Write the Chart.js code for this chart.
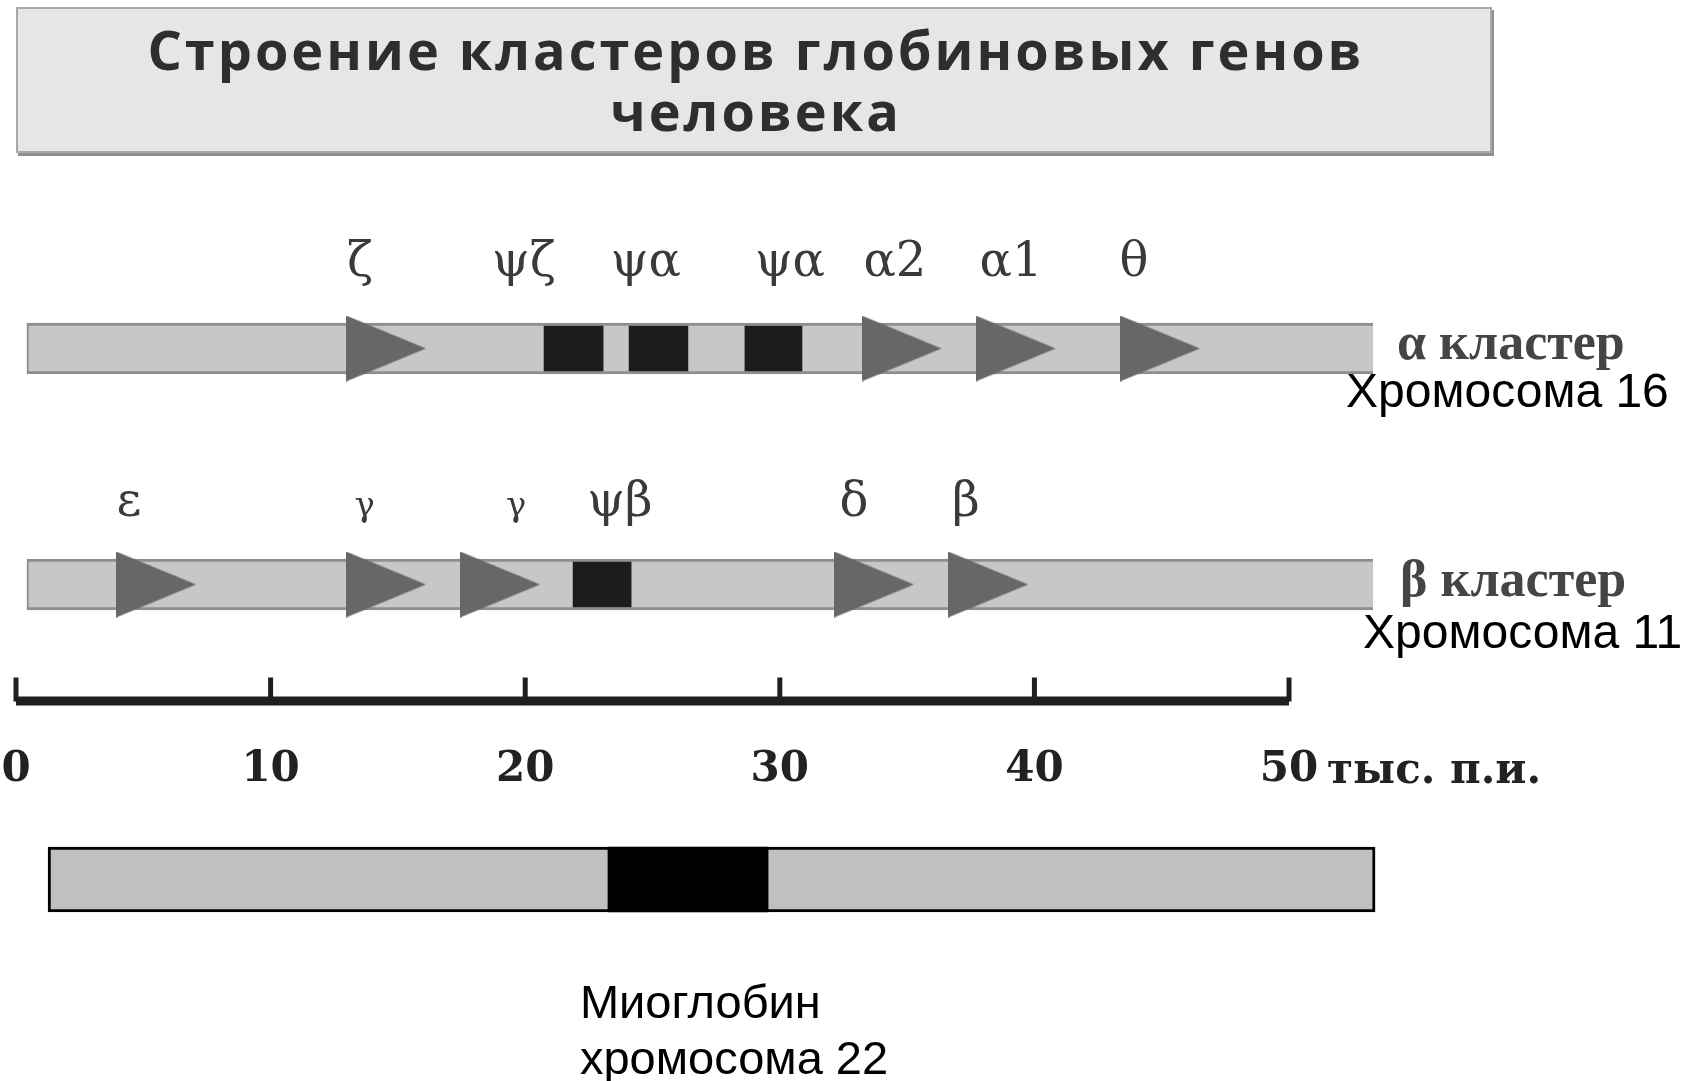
<!DOCTYPE html>
<html><head><meta charset="utf-8">
<script src="https://cdn.jsdelivr.net/npm/chart.js@4.4.1/dist/chart.umd.min.js"></script>
<style>html,body{margin:0;padding:0;background:#fff;overflow:hidden}canvas{display:block}</style>
</head><body>
<canvas id="c" width="1689" height="1081"></canvas>
<script>
// ---------------- DATA (positions along the chromosome, kb) ----------------
const titleLines = ['Строение кластеров глобиновых генов', 'человека'];
const rulerTicks = [0, 10, 20, 30, 40, 50];
const rulerUnit = 'тыс. п.и.';

const clusterSpan = [0.43, 53.3];

const alphaGeneNames = ['ζ', 'α2', 'α1', 'θ'];
const alphaGeneKb = [14.53, 34.78, 39.26, 44.93];
const alphaPseudoNames = ['ψζ', 'ψα', 'ψα'];
const alphaPseudoStart = [20.74, 24.08, 28.63];
const alphaPseudoEnd = [23.06, 26.39, 30.87];
const alphaLabels = ['ζ', 'ψζ', 'ψα', 'ψα', 'α2', 'α1', 'θ'];
const alphaLabelKb = [13.51, 19.95, 24.74, 30.4, 34.52, 39.08, 43.91];

const betaGeneNames = ['ε', 'γ', 'γ', 'δ', 'β'];
const betaGeneKb = [5.5, 14.53, 19.01, 33.7, 38.18];
const betaPseudoNames = ['ψβ'];
const betaPseudoStart = [21.88];
const betaPseudoEnd = [24.16];
const betaLabels = ['ε', 'γ', 'γ', 'ψβ', 'δ', 'β'];
const betaLabelKb = [4.44, 13.69, 19.64, 23.72, 32.91, 37.31];

const myoSpan = [1.26, 53.38];
const myoGene = [23.25, 29.54];

const rowNames = ['α кластер', 'β кластер'];
const rowChromosomes = ['Хромосома 16', 'Хромосома 11'];
const myoLines = ['Миоглобин', 'хромосома 22'];

// ---------------- LAYOUT / STYLE ----------------
const W = 1689, H = 1081;
const L = {
  xMin: -0.6284, xMax: 65.71,
  alphaY: 348.5, betaY: 584.5, myoY: 879.5,
  rulerY: 701, rulerTickY: 689.5,
  clusterThick: 51, pseudoThick: 45, myoThick: 65,
  triW: 80, triH: 66,
  alphaLabelBase: 276, betaLabelBase: 516,
  rowNameKb: [54.24, 54.36], rowNameBase: [359, 596],
  chromKb: [52.24, 52.91], chromBase: [407, 648],
  myoTextKb: 22.15, myoTextBase: [1018, 1074],
  unitOffset: 38, unitBase: 783,
  titleBox: {x: 16, y: 7, w: 1476, h: 146},
  titleCx: 756, titleBase: [70, 131]
};
const C = {
  bar: '#c6c7c9', barEdge: '#8e8e8e', pseudo: '#1e1b1b', tri: '#676767',
  label: '#3a3a3a', ruler: '#1f1f1f', myoBar: '#c0c0c0'
};

function makeTriangle(w, h, color) {
  const c = document.createElement('canvas');
  c.width = w; c.height = h;
  const g = c.getContext('2d');
  g.fillStyle = color;
  g.beginPath(); g.moveTo(0, 0); g.lineTo(w, h / 2); g.lineTo(0, h); g.closePath(); g.fill();
  return c;
}
const tri = makeTriangle(L.triW, L.triH, C.tri);

function barDs(points, color, thick, order, extra) {
  return Object.assign({
    type: 'bar', indexAxis: 'y', data: points, backgroundColor: color,
    barThickness: thick, maxBarThickness: thick, grouped: false,
    categoryPercentage: 1, barPercentage: 1, borderWidth: 0, borderSkipped: false, order
  }, extra || {});
}

const datasets = [
  { type: 'scatter', data: alphaGeneKb.map(x => ({x, y: L.alphaY})), pointStyle: tri, pointRadius: 2, order: 1 },
  { type: 'scatter', data: betaGeneKb.map(x => ({x, y: L.betaY})), pointStyle: tri, pointRadius: 2, order: 1 },
  barDs(alphaPseudoStart.map((s, i) => ({x: [s, alphaPseudoEnd[i]], y: L.alphaY})), C.pseudo, L.pseudoThick, 2),
  barDs(betaPseudoStart.map((s, i) => ({x: [s, betaPseudoEnd[i]], y: L.betaY})), C.pseudo, L.pseudoThick, 2),
  barDs([{x: clusterSpan, y: L.alphaY}, {x: clusterSpan, y: L.betaY}], C.bar, L.clusterThick, 3,
        {borderColor: C.barEdge, borderWidth: {top: 3, bottom: 3, left: 2, right: 0}}),
  barDs([{x: myoSpan, y: L.myoY}], C.myoBar, L.myoThick, 3, {borderColor: '#000', borderWidth: 3}),
  barDs([{x: myoGene, y: L.myoY}], '#000', L.myoThick, 2),
  { type: 'line', data: [{x: rulerTicks[0], y: L.rulerY}, {x: rulerTicks[rulerTicks.length - 1], y: L.rulerY}],
    borderColor: C.ruler, borderWidth: 9, pointRadius: 0, borderCapStyle: 'butt', order: 1 },
  { type: 'scatter', data: rulerTicks.map(v => ({x: v, y: L.rulerTickY})), pointStyle: 'line', rotation: 90,
    pointRadius: 12, pointBorderWidth: 5, borderWidth: 5, borderColor: C.ruler, pointBorderColor: C.ruler, order: 1 }
];

const textPlugin = {
  id: 'diagramText',
  beforeDatasetsDraw(chart) {
    const ctx = chart.ctx, b = L.titleBox;
    ctx.save();
    ctx.fillStyle = '#8f8f8f';
    ctx.fillRect(b.x + 2, b.y + 3, b.w, b.h);
    ctx.fillStyle = '#e6e6e7';
    ctx.fillRect(b.x, b.y, b.w, b.h);
    ctx.strokeStyle = '#a9a9a9'; ctx.lineWidth = 2;
    ctx.strokeRect(b.x + 1, b.y + 1, b.w - 2, b.h - 2);
    ctx.fillStyle = '#2e2e2e';
    ctx.font = 'bold 54px "Open Sans"';
    ctx.textAlign = 'center'; ctx.textBaseline = 'alphabetic';
    try { ctx.letterSpacing = '3px'; } catch (e) {}
    titleLines.forEach((t, i) => ctx.fillText(t, L.titleCx, L.titleBase[i]));
    try { ctx.letterSpacing = '0px'; } catch (e) {}
    ctx.restore();
  },
  afterDatasetsDraw(chart) {
    const ctx = chart.ctx, xs = chart.scales.x;
    const px = v => xs.getPixelForValue(v);
    ctx.save();
    ctx.textBaseline = 'alphabetic';
    ctx.fillStyle = C.label; ctx.textAlign = 'center';
    const drawLabels = (labels, kb, base) => labels.forEach((t, i) => {
      ctx.font = (t === 'γ' ? '34px' : '48px') + ' "DejaVu Serif"';
      ctx.fillText(t, px(kb[i]), base);
    });
    drawLabels(alphaLabels, alphaLabelKb, L.alphaLabelBase);
    drawLabels(betaLabels, betaLabelKb, L.betaLabelBase);
    ctx.textAlign = 'left';
    ctx.fillStyle = '#454545';
    ctx.font = 'bold 52px "Liberation Serif"';
    rowNames.forEach((t, i) => ctx.fillText(t, px(L.rowNameKb[i]), L.rowNameBase[i]));
    ctx.fillStyle = '#000';
    ctx.font = '48px "Liberation Sans"';
    rowChromosomes.forEach((t, i) => ctx.fillText(t, px(L.chromKb[i]), L.chromBase[i]));
    ctx.font = '47px "Liberation Sans"';
    myoLines.forEach((t, i) => ctx.fillText(t, px(L.myoTextKb), L.myoTextBase[i]));
    ctx.fillStyle = '#222';
    ctx.font = 'bold 42px "DejaVu Serif"';
    ctx.fillText(rulerUnit, px(rulerTicks[rulerTicks.length - 1]) + L.unitOffset, L.unitBase);
    ctx.restore();
  }
};

const noPad = s => { s.paddingLeft = 0; s.paddingRight = 0; s.paddingTop = 0; s.paddingBottom = 0; };

new Chart(document.getElementById('c'), {
  type: 'scatter',
  data: { datasets },
  options: {
    responsive: false, animation: false, devicePixelRatio: 1, events: [],
    layout: { padding: 0, autoPadding: false },
    plugins: { legend: { display: false }, tooltip: { enabled: false }, title: { display: false } },
    scales: {
      x: {
        type: 'linear', min: L.xMin, max: L.xMax, offset: false,
        position: { y: L.rulerY },
        grid: { display: false, drawTicks: false }, border: { display: false },
        afterBuildTicks: s => { s.ticks = rulerTicks.map(v => ({ value: v })); },
        afterFit: noPad,
        ticks: { autoSkip: false, maxRotation: 0, padding: 44, color: '#222',
                 callback: v => String(v),
                 font: { family: 'DejaVu Serif', weight: 'bold', size: 42 } }
      },
      y: {
        type: 'linear', min: 0, max: H, reverse: true, display: false, offset: false,
        afterFit: noPad,
        afterBuildTicks: s => { s.ticks = [{ value: 0 }, { value: H }]; }
      }
    }
  },
  plugins: [textPlugin]
});
</script>
</body></html>
